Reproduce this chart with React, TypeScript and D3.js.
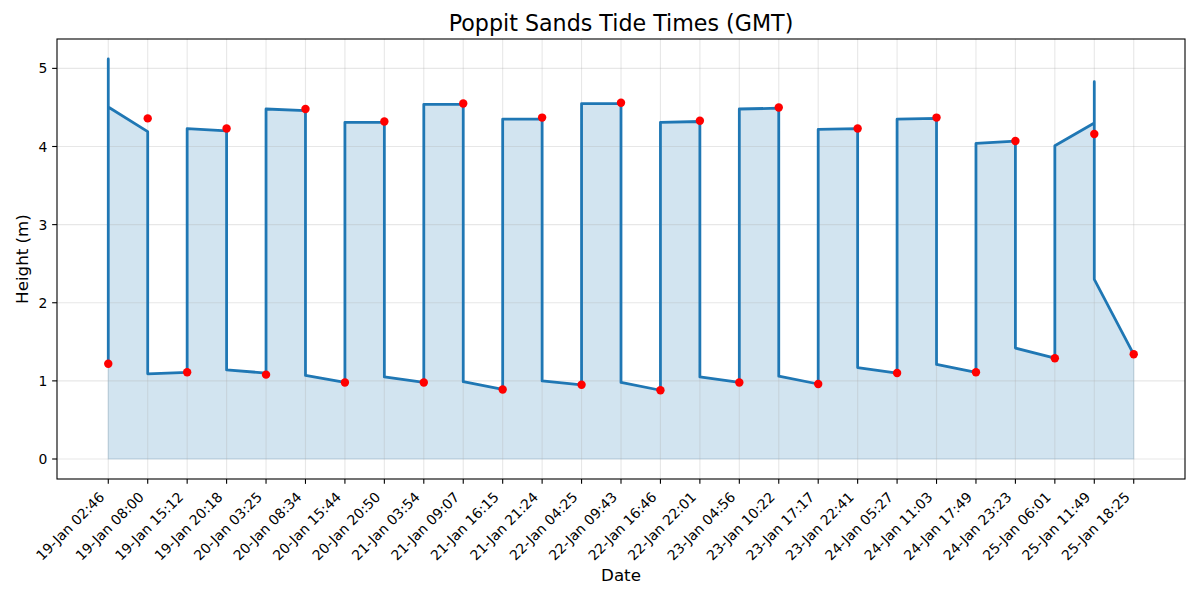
import React from "react";
import * as d3 from "d3";

const tideLabels = [
  "19-Jan 02:46", "19-Jan 08:00", "19-Jan 15:12", "19-Jan 20:18",
  "20-Jan 03:25", "20-Jan 08:34", "20-Jan 15:44", "20-Jan 20:50",
  "21-Jan 03:54", "21-Jan 09:07", "21-Jan 16:15", "21-Jan 21:24",
  "22-Jan 04:25", "22-Jan 09:43", "22-Jan 16:46", "22-Jan 22:01",
  "23-Jan 04:56", "23-Jan 10:22", "23-Jan 17:17", "23-Jan 22:41",
  "24-Jan 05:27", "24-Jan 11:03", "24-Jan 17:49", "24-Jan 23:23",
  "25-Jan 06:01", "25-Jan 11:49", "25-Jan 18:25",
];

const tideHeights = [
  1.22, 4.36, 1.11, 4.23, 1.08, 4.48, 0.98, 4.32, 0.98, 4.55,
  0.89, 4.37, 0.95, 4.56, 0.88, 4.33, 0.98, 4.50, 0.96, 4.23,
  1.10, 4.37, 1.11, 4.07, 1.29, 4.16, 1.34,
];

// curve vertices: position (category index) and height
const curveIndex = [
  0, 0, 0, 1, 1, 2, 2, 3, 3, 4, 4, 5, 5, 6, 6, 7, 7, 8, 8, 9, 9, 10, 10,
  11, 11, 12, 12, 13, 13, 14, 14, 15, 15, 16, 16, 17, 17, 18, 18, 19, 19,
  20, 20, 21, 21, 22, 22, 23, 23, 24, 24, 25, 25, 25, 26,
];
const curveHeight = [
  1.22, 5.12, 4.505, 4.19, 1.09, 1.11, 4.23, 4.20, 1.14, 1.10, 4.48, 4.46,
  1.07, 0.98, 4.31, 4.31, 1.05, 0.98, 4.54, 4.54, 0.99, 0.89, 4.35, 4.35,
  1.00, 0.95, 4.55, 4.55, 0.98, 0.88, 4.31, 4.32, 1.05, 0.98, 4.48, 4.49,
  1.06, 0.96, 4.22, 4.23, 1.17, 1.10, 4.35, 4.36, 1.21, 1.11, 4.04, 4.07,
  1.42, 1.29, 4.01, 4.30, 4.83, 2.30, 1.34,
];

const yTicks = [0, 1, 2, 3, 4, 5];

const W = 1200;
const H = 600;
const M = { left: 57, right: 1185, top: 39, bottom: 479 };
const BLUE = "#1f77b4";
const FONT = "DejaVu Sans, sans-serif";

export default function App() {
  const n = tideLabels.length;
  const xSpan = n - 1;
  const x = d3
    .scaleLinear()
    .domain([-0.05 * xSpan, xSpan + 0.05 * xSpan])
    .range([M.left, M.right]);
  const yMax = d3.max(curveHeight) as number;
  const yMin = 0;
  const yPad = (yMax - yMin) * 0.05;
  const y = d3
    .scaleLinear()
    .domain([yMin - yPad, yMax + yPad])
    .range([M.bottom, M.top]);

  const pts: [number, number][] = curveIndex.map((ix, k) => [ix, curveHeight[k]]);
  const line = d3
    .line<[number, number]>()
    .x((d) => x(d[0]))
    .y((d) => y(d[1]));
  const area = d3
    .area<[number, number]>()
    .x((d) => x(d[0]))
    .y0(() => y(0))
    .y1((d) => y(d[1]));

  const tickLen = 4.86;
  return (
    <svg
      width={W}
      height={H}
      style={{ position: "absolute", left: 0, top: 0, background: "#fff" }}
      fontFamily={FONT}
    >
      <rect x={0} y={0} width={W} height={H} fill="#fff" />
      {/* fill */}
      <path
        d={area(pts) || ""}
        fill={BLUE}
        fillOpacity={0.2}
        stroke={BLUE}
        strokeOpacity={0.2}
        strokeWidth={1.1}
      />
      {/* grid */}
      <g stroke="#b0b0b0" strokeOpacity={0.3} strokeWidth={1.1}>
        {tideLabels.map((_, i) => (
          <line key={"gx" + i} x1={x(i)} x2={x(i)} y1={M.top} y2={M.bottom} />
        ))}
        {yTicks.map((t) => (
          <line key={"gy" + t} x1={M.left} x2={M.right} y1={y(t)} y2={y(t)} />
        ))}
      </g>
      {/* line */}
      <path
        d={line(pts) || ""}
        fill="none"
        stroke={BLUE}
        strokeWidth={2.78}
        strokeLinejoin="round"
        strokeLinecap="square"
      />
      {/* points */}
      {tideHeights.map((v, i) => (
        <circle key={"p" + i} cx={x(i)} cy={y(v)} r={4.2} fill="red" />
      ))}
      {/* frame */}
      <rect
        x={M.left}
        y={M.top}
        width={M.right - M.left}
        height={M.bottom - M.top}
        fill="none"
        stroke="#000"
        strokeWidth={1.1}
      />
      {/* x ticks */}
      {tideLabels.map((lab, i) => (
        <g key={"xt" + i}>
          <line
            x1={x(i)}
            x2={x(i)}
            y1={M.bottom}
            y2={M.bottom + tickLen}
            stroke="#000"
            strokeWidth={1.1}
          />
          <text
            transform={`translate(${x(i) - 3},${498}) rotate(-45)`}
            textAnchor="end"
            fontSize={13.9}
            fill="#000"
          >
            {lab}
          </text>
        </g>
      ))}
      {/* y ticks */}
      {yTicks.map((t) => (
        <g key={"yt" + t}>
          <line
            x1={M.left - tickLen}
            x2={M.left}
            y1={y(t)}
            y2={y(t)}
            stroke="#000"
            strokeWidth={1.1}
          />
          <text
            x={M.left - tickLen - 4.86}
            y={y(t)}
            dy="0.36em"
            textAnchor="end"
            fontSize={13.9}
            fill="#000"
          >
            {t}
          </text>
        </g>
      ))}
      {/* labels */}
      <text x={(M.left + M.right) / 2} y={31} textAnchor="middle" fontSize={22.2} fill="#000">
        Poppit Sands Tide Times (GMT)
      </text>
      <text x={(M.left + M.right) / 2} y={581} textAnchor="middle" fontSize={16.7} fill="#000">
        Date
      </text>
      <text
        transform={`translate(28,${(M.top + M.bottom) / 2}) rotate(-90)`}
        textAnchor="middle"
        fontSize={16.7}
        fill="#000"
      >
        Height (m)
      </text>
    </svg>
  );
}
